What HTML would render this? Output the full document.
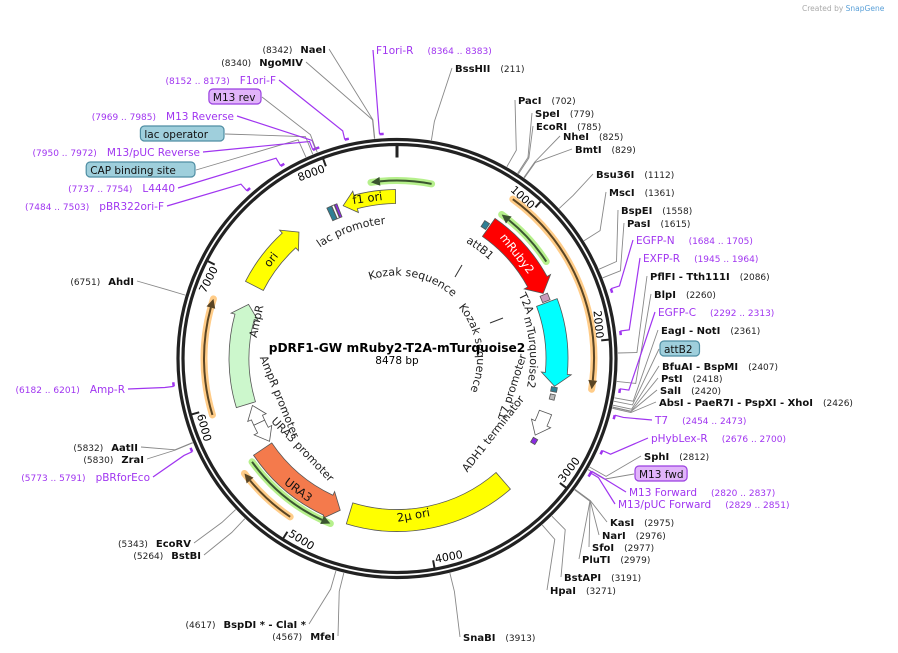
<!DOCTYPE html>
<html><head><meta charset="utf-8"><style>
html,body{margin:0;padding:0;background:#fff;}
svg{display:block;font-family:"DejaVu Sans","Liberation Sans",sans-serif;}
</style></head><body>
<svg id="map" width="898" height="653" viewBox="0 0 898 653" xmlns="http://www.w3.org/2000/svg">
<text x="802" y="11" font-size="7.5" fill="#aaa">Created by <tspan fill="#5aa0d8">SnapGene</tspan></text>
<g id="lines"></g>
<g id="backbone"></g>
<g id="feats"></g>
<g id="labels"></g>
<text x="397" y="352" text-anchor="middle" font-size="12.2" font-weight="bold">pDRF1-GW mRuby2-T2A-mTurquoise2</text>
<text x="397" y="364" text-anchor="middle" font-size="10.5">8478 bp</text>
</svg>
<script>
const N = 8478, cx = 397, cy = 358.5;
const NS = 'http://www.w3.org/2000/svg';
// tick positions (bp)
const tickBp = [1000,2000,3000,4000,5000,6000,7000,8000];
// features
const featName  = ['f1-ori','top-primer-arrow','ori','left-orange-arrow','ampr','ampr-promoter','ura3-promoter','ura3','ura3-green-arrow','ura3-orange-arrow','2mu-ori','mruby2','attb1','t2a','mturquoise2','attb2','t7-promoter','adh1-terminator','right-purple-site','right-green-arrow','right-orange-arrow','lac-promoter','lac-operator','cap-site'];
const featStart = [-457,-198,-1484,5958,5958,5770,5581,4722,4757,5040,3274,824,765,1566,1637,2362,2425,2590,2826,848,848,-589,-545,-520];
const featEnd   = [-12,264,-890,6782,6830,5935,5770,5558,5523,5487,4640,1554,812,1625,2355,2402,2470,2802,2873,1342,2331,-548,-525,-500];
const featDir   = [-1,-1,1,1,1,1,-1,-1,-1,1,0,1,0,0,1,0,0,1,0,-1,1,0,0,0];
const featKind  = ['block','thin-g','block','thin-o','block','block','block','block','thin-g','thin-o','block','block','block','block','block','block','block','block','block','thin-g','thin-o','block','block','block'];

function P(bp,r){const a=bp/N*2*Math.PI;return [cx+r*Math.sin(a), cy-r*Math.cos(a)];}
function f(p){return p[0].toFixed(2)+' '+p[1].toFixed(2);}
function arcPath(s,e,r){const la=(e-s)/N>0.5?1:0;return 'M'+f(P(s,r))+' A'+r+' '+r+' 0 '+la+' 1 '+f(P(e,r));}
function mk(tag,attrs,parent){const el=document.createElementNS(NS,tag);for(const k in attrs)el.setAttribute(k,attrs[k]);parent.appendChild(el);return el;}
const geom = {
 'f1-ori':[162,14,'#ffff00'],'ori':[160,20,'#ffff00'],'ampr':[158,20,'#ccf7cc'],'ampr-promoter':[152,12,'#ffffff'],
 'ura3-promoter':[152,12,'#ffffff'],'ura3':[162,22,'#f47a4c'],'2mu-ori':[162,22,'#ffff00'],'mruby2':[160,22,'#ff0000'],
 'attb1':[160,7,'#2f7f94'],'t2a':[160,8,'#c89cbc'],'mturquoise2':[160,22,'#00ffff'],'attb2':[160,6,'#2f7f94'],
 't7-promoter':[160,5,'#bbbbbb'],'adh1-terminator':[158,13,'#ffffff'],'right-purple-site':[160,5,'#8a2be2'],
 'lac-promoter':[159,14,'#2f7f94'],'lac-operator':[159,14,'#ffffff'],'cap-site':[159,14,'#8a2be2'],
 'top-primer-arrow':[178],'left-orange-arrow':[193],'ura3-green-arrow':[178],'ura3-orange-arrow':[191],
 'right-green-arrow':[178],'right-orange-arrow':[197]
};
const bb=document.getElementById('backbone');
const c1=mk('circle',{cx:cx,cy:cy,r:219,fill:'none',stroke:'#222','stroke-width':3.2},bb);


const c2=mk('circle',{cx:cx,cy:cy,r:214,fill:'none',stroke:'#222','stroke-width':3.2},bb);


const t0=mk('line',{x1:cx,y1:cy-213,x2:cx,y2:cy-201,stroke:'#222','stroke-width':3},bb);


tickBp.forEach(b=>{
  const a=b/N*360;
  const p1=P(b,213),p2=P(b,205);
  const t=mk('line',{x1:p1[0],y1:p1[1],x2:p2[0],y2:p2[1],stroke:'#222','stroke-width':2},bb);
  
  
  let rot,anchor,rr;
  if(a<90||a>270){rot=a>180?a-360:a;anchor='end';rr=200;}else{rot=a-180;anchor='start';rr=208;}
  const p=P(b-14,rr);
  const tx=mk('text',{x:p[0],y:p[1],'font-size':11,'text-anchor':anchor,transform:'rotate('+rot.toFixed(1)+' '+p[0].toFixed(1)+' '+p[1].toFixed(1)+')'},bb);
  tx.textContent=b;
  
  
});
const fg=document.getElementById('feats');
featName.forEach((nm,i)=>{
  const s=featStart[i],e=featEnd[i],d=featDir[i],g=geom[nm];
  const r=g[0];
  if(featKind[i]==='block'){
    const w=g[1],ro=r+w/2,ri=r-w/2,hb=Math.min(13/r*N/(2*Math.PI),(e-s)*0.8);let path;
    if(d>0){const be=e-hb;path='M'+f(P(s,ro))+' A'+ro+' '+ro+' 0 0 1 '+f(P(be,ro))+' L'+f(P(be,ro+4))+' L'+f(P(e,r))+' L'+f(P(be,ri-4))+' L'+f(P(be,ri))+' A'+ri+' '+ri+' 0 0 0 '+f(P(s,ri))+' Z';}
    else if(d<0){const bs=s+hb;path='M'+f(P(bs,ro))+' A'+ro+' '+ro+' 0 0 1 '+f(P(e,ro))+' L'+f(P(e,ri))+' A'+ri+' '+ri+' 0 0 0 '+f(P(bs,ri))+' L'+f(P(bs,ri-4))+' L'+f(P(s,r))+' L'+f(P(bs,ro+4))+' Z';}
    else{path='M'+f(P(s,ro))+' A'+ro+' '+ro+' 0 0 1 '+f(P(e,ro))+' L'+f(P(e,ri))+' A'+ri+' '+ri+' 0 0 0 '+f(P(s,ri))+' Z';}
    const el=mk('path',{d:path,fill:g[2],stroke:'#555','stroke-width':0.8},fg);
    
    
  } else {
    const halo=featKind[i]==='thin-g'?'#b6f08c':'#ffcc88', dark=featKind[i]==='thin-g'?'#3b5530':'#5a4524';
    const hb=9/r*N/(2*Math.PI);
    const s2=d<0?s+hb:s, e2=d>0?e-hb:e;
    const grp=mk('g',{},fg);
    
    
    mk('path',{d:arcPath(s,e,r),fill:'none',stroke:halo,'stroke-width':7,'stroke-linecap':'round'},grp);
    mk('path',{d:arcPath(s2,e2,r),fill:'none',stroke:dark,'stroke-width':2},grp);
    const tip=d>0?e:s, base=d>0?e-hb:s+hb;
    mk('path',{d:'M'+f(P(base,r+4.5))+' L'+f(P(tip,r))+' L'+f(P(base,r-4.5))+' Z',fill:dark},grp);
  }
});
const km=[[455,277,462,265],[490,323,503,318]];
km.forEach((k,i)=>{const l=mk('line',{x1:k[0],y1:k[1],x2:k[2],y2:k[3],stroke:'#333','stroke-width':1},fg);

});

// ---- labels ----
const labels=[
['BssHII','(211)',455,72,211,'R','e'],['PacI','(702)',518,104,702,'R','e'],['SpeI','(779)',535,117,779,'R','e'],
['EcoRI','(785)',536,130,785,'R','e'],['NheI','(825)',563,140,825,'R','e'],['BmtI','(829)',575,153,829,'R','e'],
['Bsu36I','(1112)',596,178,1112,'R','e'],['MscI','(1361)',609,196,1361,'R','e'],['BspEI','(1558)',621,214,1558,'R','e'],
['PasI','(1615)',627,227,1615,'R','e'],['EGFP-N','(1684 .. 1705)',636,244,1694,'R','p'],['EXFP-R','(1945 .. 1964)',643,262,1954,'R','p'],
['PflFI  - Tth111I','(2086)',650,280,2086,'R','e'],['BlpI','(2260)',654,298,2260,'R','e'],['EGFP-C','(2292 .. 2313)',658,316,2302,'R','p'],
['EagI  - NotI','(2361)',661,334,2361,'R','e'],['attB2','',661,353,2382,'R','b'],['BfuAI  - BspMI','(2407)',662,370,2407,'R','e'],
['PstI','(2418)',661,382,2418,'R','e'],['SalI','(2420)',660,394,2420,'R','e'],['AbsI  - PaeR7I  - PspXI  - XhoI','(2426)',659,406,2426,'R','e'],
['T7','(2454 .. 2473)',655,424,2463,'R','p'],['pHybLex-R','(2676 .. 2700)',651,442,2688,'R','p'],['SphI','(2812)',644,460,2812,'R','e'],
['M13 fwd','',636,478,2830,'R','bp'],['M13 Forward','(2820 .. 2837)',629,496,2828,'R','p'],['M13/pUC Forward','(2829 .. 2851)',618,508,2840,'R','p'],
['KasI','(2975)',610,526,2975,'R','e'],['NarI','(2976)',602,539,2976,'R','e'],['SfoI','(2977)',592,551,2977,'R','e'],
['PluTI','(2979)',582,563,2979,'R','e'],['BstAPI','(3191)',564,581,3191,'R','e'],['HpaI','(3271)',550,594,3271,'R','e'],
['SnaBI','(3913)',463,641,3913,'R','e'],
['MfeI','(4567)',335,640,4567,'L','e'],['BspDI *  - ClaI *','(4617)',306,628,4617,'L','e'],['EcoRV','(5343)',191,547,5343,'L','e'],
['BstBI','(5264)',201,559,5264,'L','e'],['pBRforEco','(5773 .. 5791)',150,481,5782,'L','p'],['ZraI','(5830)',144,463,5830,'L','e'],
['AatII','(5832)',138,451,5832,'L','e'],['Amp-R','(6182 .. 6201)',125,393,6191,'L','p'],['AhdI','(6751)',134,285,6751,'L','e'],
['pBR322ori-F','(7484 .. 7503)',164,210,7493,'L','p'],['L4440','(7737 .. 7754)',175,192,7745,'L','p'],['CAP binding site','',195,174,7905,'L','b'],
['M13/pUC Reverse','(7950 .. 7972)',200,156,7961,'L','p'],['lac operator','',224,138,7950,'L','b'],['M13 Reverse','(7969 .. 7985)',234,120,7977,'L','p'],
['M13 rev','',261,101,7980,'L','bp'],['F1ori-F','(8152 .. 8173)',276,84,8162,'L','p'],['NgoMIV','(8340)',303,66,8340,'L','e'],
['NaeI','(8342)',326,53,8342,'L','e'],['F1ori-R','(8364 .. 8383)',376,54,8373,'R','p']
];
const lg=document.getElementById('labels'), lng=document.getElementById('lines');
const PURP='#a035f0';
labels.forEach(L=>{
  const [nm,num,x,y,bp,side,kind]=L;
  const isP=kind==='p', isB=kind==='b'||kind==='bp';
  const col=isP?PURP:'#111';
  const slug=nm.toLowerCase().replace(/[^a-z0-9]+/g,'-').replace(/-+$/,'');
  const g=mk('g',{},lg);
  
  
  let ax;
  if(isB){
    const w=nm.length*6.3+8;
    const bx=side==='R'?x-1:x-w;
    mk('rect',{x:bx,y:y-12,width:w,height:15,rx:4,fill:kind==='bp'?'#e1b4fa':'#9fcfdc',stroke:kind==='bp'?'#9a3fe0':'#4f8ea3','stroke-width':1.2},g);
    const t=mk('text',{x:bx+4,y:y,'font-size':10.5,fill:'#111'},g);t.textContent=nm;
    ax=side==='R'?bx-1:bx+w+1;
  } else if(side==='R'){
    const t=mk('text',{x:x,y:y,'font-size':isP?10.5:10,fill:col},g);
    const a=mk('tspan',{'font-weight':isP?'normal':'bold'},t);a.textContent=nm;
    const b=mk('tspan',{dx:isP?14:10,'font-size':9,fill:isP?PURP:'#222'},t);b.textContent=num;
    ax=x-3;
  } else {
    const t=mk('text',{x:x,y:y,'font-size':isP?10.5:10,fill:col,'text-anchor':'end'},g);
    const b=mk('tspan',{'font-size':9,fill:isP?PURP:'#222'},t);b.textContent=num;
    const a=mk('tspan',{dx:isP?10:8,'font-weight':isP?'normal':'bold'},t);a.textContent=nm;
    ax=x+3;
  }
  const p1=P(bp,isP?234:240), p2=P(bp,isP?225:221);
  const d='M'+ax+' '+(y-4)+' L'+f(p1)+' L'+f(p2);
  const ln=mk('path',{d:d,fill:'none',stroke:isP?PURP:'#888','stroke-width':isP?1.2:0.9},lng);
  
  
  if(isP){const q=P(bp+25,225);const m=mk('path',{d:'M'+f(p2)+' L'+f(q),stroke:PURP,'stroke-width':2.5,fill:'none'},lng);
    
    }
});
const defs=mk('defs',{},document.getElementById('map'));
function curved(id,txt,s,e,r,size,name){
  mk('path',{id:id,d:arcPath(s,e,r),fill:'none'},defs);
  const t=mk('text',{'font-size':size,fill:'#222'},fg);
  const tp=mk('textPath',{href:'#'+id},t);tp.textContent=txt;
  
  
}
curved('k1','Kozak sequence',-450,1000,83,11,'kozak-label-1');
curved('k2','Kozak sequence',1180,3200,80,11,'kozak-label-2');
curved('lp','lac promoter',-820,-50,135,11,'lac-promoter-label');
curved('ab','attB1',720,1100,135,11,'attb1-label');
curved('t2','T2A',1470,1700,137,11,'t2a-label');
curved('mt','mTurquoise2',1700,2500,133,11,'mturquoise2-label');
function rt(txt,x,y,rot,name,fill,size,anchor){
  const t=mk('text',{x:x,y:y,'font-size':size||11,fill:fill||'#222','text-anchor':anchor||'middle',transform:'rotate('+rot+' '+x+' '+y+')'},fg);
  t.textContent=txt;
  
  
}
rt('f1 ori',368,202,-8,'f1-ori-label','#111',11.5);
rt('ori',274,262,-52,'ori-label','#111',11.5);
rt('mRuby2',514,256,52,'mruby2-label','#fff',11.5);
rt('2µ ori',414,519,-10,'2mu-ori-label','#111',11.5);
rt('URA3',296,493,37,'ura3-label','#111',11.5);
rt('AmpR',260,322,-78,'ampr-label');
rt('AmpR promoter',276,398,68,'ampr-promoter-label');
rt('URA3 promoter',300,452,46,'ura3-promoter-label');
rt('T7 promoter',516,388,-72,'t7-promoter-label');
rt('ADH1 terminator',496,436,-52,'adh1-terminator-label');
</script>
</body></html>
